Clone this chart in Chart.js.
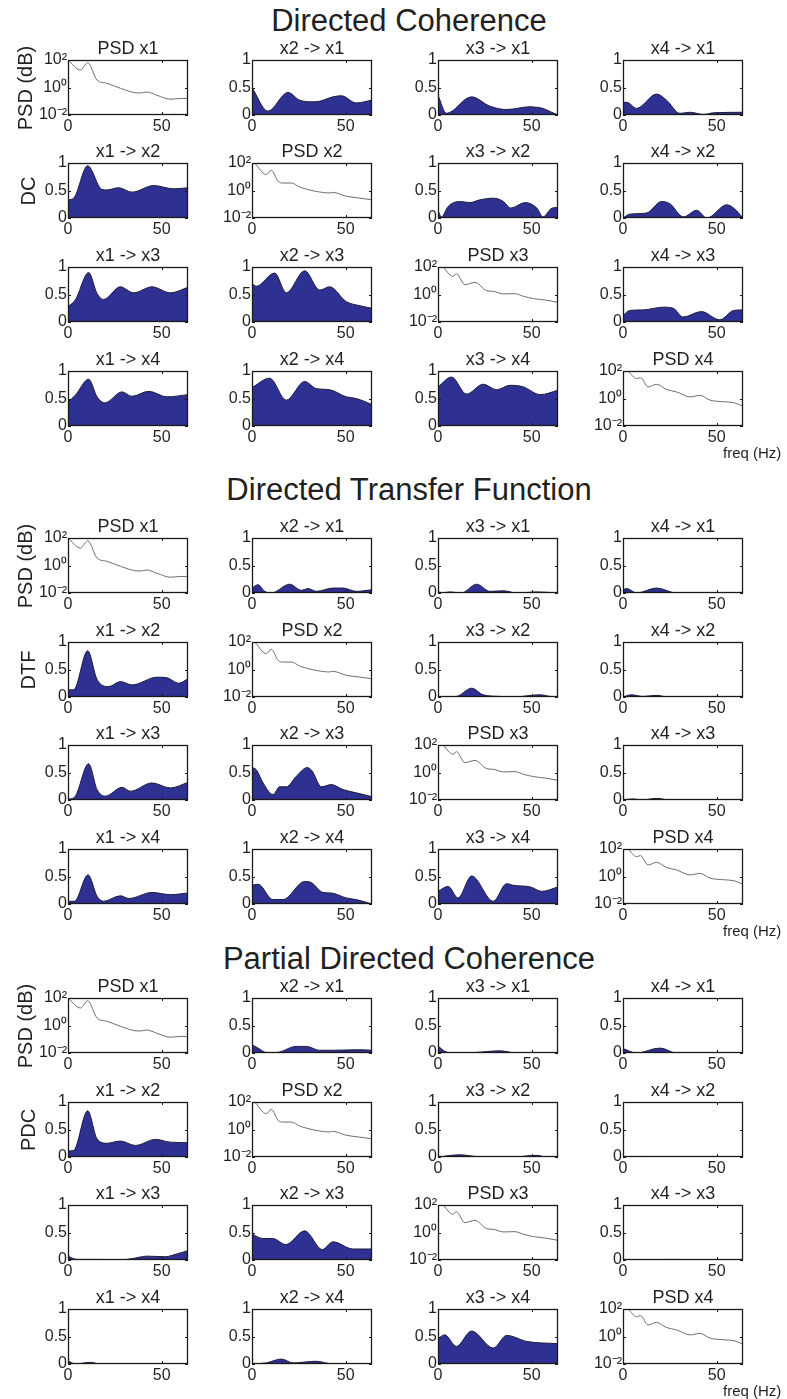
<!DOCTYPE html>
<html>
<head>
<meta charset="utf-8">
<script src="https://cdn.jsdelivr.net/npm/chart.js@4.4.0/dist/chart.umd.min.js"></script>
<style>
  body { margin: 0; background: #fff; }
  #fig { position: relative; width: 787px; height: 1399px; overflow: hidden;
         font-family: "Liberation Sans", Arial, sans-serif; color: #231f20; }
  #fig canvas { position: absolute; }
  .suptitle { position: absolute; left: 0; width: 818px; text-align: center; font-size: 31px; line-height: 1; }
  .ylab { position: absolute; font-size: 20px; white-space: nowrap; line-height: 1;
          transform: translate(-50%, -50%) rotate(-90deg); }
  .xlab { position: absolute; font-size: 15px; white-space: nowrap; line-height: 1; }
</style>
</head>
<body>
<div id="fig"></div>
<script>
// Spectra of each channel (same in every block), [freq, power]
const PSD_X1 = [[0,100],[6.6,18.6],[10.5,63],[15.5,3.5],[20.8,2.0],[28,0.87],[30.6,0.66],[35,0.43],[38.6,0.40],[42,0.47],[47.5,0.27],[54.6,0.14],[60,0.16],[64,0.16]];
const PSD_X2 = [[0,140],[1.4,100],[5.9,18.6],[7.6,14.1],[10.3,29.5],[13.9,4.7],[16.5,3.5],[21,3.5],[25.4,1.78],[29,1.26],[34,0.87],[41.4,0.66],[43,0.74],[50.3,0.38],[57.4,0.28],[64,0.21]];
const PSD_X3 = [[0,200],[2.7,100],[6.3,27.5],[8,20.9],[9.8,33],[14.3,5.2],[19.7,7.6],[26,1.9],[29.5,1.7],[34.9,1.1],[41,1.15],[45.6,0.74],[51,0.5],[58,0.38],[64,0.27]];
const PSD_X4 = [[0,200],[2.7,100],[7.2,28],[9.3,33],[13.4,6.9],[17.9,10.7],[23.2,4.5],[28.6,3.0],[35.8,1.3],[41,1.7],[46.4,0.76],[53.6,0.58],[59,0.5],[64,0.28]];

// Directed coherence, source -> target
const DC_21 = [[0,.5],[8.5,.07],[19.2,.41],[25.4,.27],[32.5,.24],[36,.25],[43.2,.33],[47.6,.35],[55.6,.22],[64,.27]];
const DC_31 = [[0,.36],[4.5,.03],[17.9,.33],[27.7,.16],[36.6,.10],[49,.15],[52.7,.14],[56,.12],[60,.06],[64,0]];
const DC_41 = [[0,.23],[2.1,.23],[7.2,.12],[17.9,.38],[23.2,.27],[30.4,.03],[35.8,.05],[42.9,.01],[48.3,.04],[64,.05]];
const DC_12 = [[0,.33],[3,.36],[10.5,.95],[18,.52],[20.8,.51],[27,.55],[34.1,.47],[45.7,.59],[56.4,.53],[64,.55]];
const DC_32 = [[0,.14],[1.8,.02],[5.4,.21],[11.6,.3],[17,.28],[22.3,.33],[29.5,.36],[34.9,.3],[38.8,.18],[46.5,.28],[52.7,.18],[56,.02],[60.8,.18],[64,.19]];
const DC_42 = [[0,0],[3.6,.07],[12.5,.09],[20.6,.3],[25,.26],[32.2,.02],[39.3,.14],[44.7,0],[55.4,.24],[59,.18],[64,0]];
const DC_13 = [[0,.28],[3.9,.40],[11,.9],[15.5,.52],[19,.41],[27.9,.64],[35,.53],[44.8,.64],[54.6,.53],[64,.63]];
const DC_23 = [[0,.7],[2.3,.65],[12.1,.89],[18.3,.53],[28.1,.93],[36.1,.58],[41.4,.64],[50.3,.37],[57,.3],[64,.25]];
const DC_43 = [[0,.12],[3.6,.21],[10.7,.22],[21.5,.27],[26.8,.25],[32,.09],[41.8,.19],[51.6,.04],[59,.21],[64,.22]];
const DC_14 = [[0,.44],[3.9,.56],[11,.85],[15.5,.53],[19.6,.42],[28.8,.62],[34.1,.54],[43,.63],[52.8,.53],[64,.57]];
const DC_24 = [[0,.7],[9.4,.87],[18.3,.47],[28.1,.81],[34.3,.68],[41.4,.66],[50.3,.53],[55.6,.5],[64,.39]];
const DC_34 = [[0,.71],[7.2,.89],[15.2,.58],[24.1,.76],[31.3,.66],[38.4,.74],[45.6,.71],[54.5,.57],[64,.65]];

// Directed transfer function
const DTF_21 = [[0,.09],[3.2,.15],[6.8,.03],[10.3,0],[20.1,.16],[26.3,.05],[29.9,.08],[34.3,.03],[43.2,.09],[48.5,.09],[55.6,.03],[64,.06]];
const DTF_31 = [[0,.03],[1.8,0],[6.3,.02],[12.5,0],[20.6,.16],[27.7,.03],[34.9,.04],[42,0],[52.7,.02],[64,0]];
const DTF_41 = [[0,.06],[2.1,.08],[7.2,0],[17.9,.09],[28.6,0],[64,.01]];
const DTF_12 = [[0,.13],[3,.13],[10.5,.84],[15.5,.32],[21.7,.19],[28,.28],[34.1,.22],[47.5,.36],[52.8,.35],[59,.25],[64,.33]];
const DTF_32 = [[0,0],[9.8,.01],[17.9,.16],[24.1,.04],[32.9,.01],[40,0],[54.5,.04],[59.9,.01],[64,0]];
const DTF_42 = [[0,0],[4.5,.04],[10.7,.01],[17.9,.03],[24,0],[48,.01],[64,0]];
const DTF_13 = [[0,.01],[3.9,.07],[11,.66],[15.5,.19],[19.9,.07],[28.8,.23],[33.2,.16],[44.8,.31],[54.6,.22],[64,.32]];
const DTF_23 = [[0,.59],[2.3,.55],[5.9,.31],[11.2,.10],[14.8,.24],[18.3,.24],[23.6,.43],[29.5,.59],[32,.53],[37,.24],[42.3,.28],[48.5,.19],[55.6,.13],[64,.06]];
const DTF_43 = [[0,0],[5.4,.02],[10,0],[17.9,.03],[25,0],[64,0]];
const DTF_14 = [[0,.05],[3.4,.05],[10.7,.53],[15.5,.14],[19,.05],[28,.15],[32.4,.1],[44.8,.21],[54.6,.17],[64,.2]];
const DTF_24 = [[0,.34],[3.2,.36],[11.2,.08],[16.5,.08],[28.1,.41],[31.6,.39],[37.9,.21],[42.3,.2],[50.3,.11],[55.6,.08],[64,0]];
const DTF_34 = [[0,.23],[5.4,.32],[10.7,.11],[17.9,.51],[29.5,.05],[36.6,.37],[40.2,.34],[49.2,.31],[55.4,.23],[64,.31]];

// Partial directed coherence
const PDC_21 = [[0,.15],[3.2,.09],[7.6,.01],[13,.01],[23.6,.12],[29,.12],[36,.05],[43.2,.05],[57.4,.06],[64,.05]];
const PDC_31 = [[0,.13],[3.6,.03],[8,0],[20,.01],[32.9,.04],[42,0],[64,0]];
const PDC_41 = [[0,.08],[7.2,0],[19.7,.09],[28.6,0],[64,0]];
const PDC_12 = [[0,.11],[3,.12],[10.5,.84],[15.5,.33],[20.8,.25],[28,.29],[35.9,.21],[46.6,.32],[54.6,.27],[64,.26]];
const PDC_32 = [[0,0],[11.6,.04],[20.4,.01],[40,0],[52.4,.03],[58,0],[64,0]];
const PDC_42 = [[0,0],[8.9,.01],[30,0],[48,.01],[64,0]];
const PDC_13 = [[0,.07],[4.8,.01],[15.5,.01],[27.9,0],[35,.03],[42.1,.07],[51.9,.06],[58,.11],[64,.17]];
const PDC_23 = [[0,.47],[5.9,.39],[11.2,.39],[18,.28],[28.1,.53],[37.5,.19],[43.2,.33],[53.9,.2],[64,.2]];
const PDC_43 = [[0,0],[26.8,.01],[64,0]];
const PDC_14 = [[0,.06],[3.9,0],[11.9,.03],[17.2,0],[64,0]];
const PDC_24 = [[0,0],[7.6,.02],[15.6,.09],[21.9,.02],[34.3,.05],[43.2,0],[64,0]];
const PDC_34 = [[0,.46],[3.6,.53],[9.8,.32],[17.9,.6],[29.5,.29],[36.6,.52],[47.4,.41],[64,.37]];

const X_TICKS = [0, 50];
const COH_TICKS = [0, 0.5, 1];
const PSD_TICKS = [0.01, 1, 100];
const PSD_LABELS = { 0.01: '10\u207B\u00B2', 1: '10\u2070', 100: '10\u00B2' };

// rows = target channel, columns = source channel, spectra on the diagonal
const BLOCKS = [
  { title: 'Directed Coherence', measure: 'DC', titleY: 20, rows: [60, 163, 267, 371],
    grid: [[PSD_X1, DC_21, DC_31, DC_41], [DC_12, PSD_X2, DC_32, DC_42], [DC_13, DC_23, PSD_X3, DC_43], [DC_14, DC_24, DC_34, PSD_X4]] },
  { title: 'Directed Transfer Function', measure: 'DTF', titleY: 489, rows: [538, 642, 745, 849],
    grid: [[PSD_X1, DTF_21, DTF_31, DTF_41], [DTF_12, PSD_X2, DTF_32, DTF_42], [DTF_13, DTF_23, PSD_X3, DTF_43], [DTF_14, DTF_24, DTF_34, PSD_X4]] },
  { title: 'Partial Directed Coherence', measure: 'PDC', titleY: 958, rows: [998, 1102, 1205, 1309],
    grid: [[PSD_X1, PDC_21, PDC_31, PDC_41], [PDC_12, PSD_X2, PDC_32, PDC_42], [PDC_13, PDC_23, PSD_X3, PDC_43], [PDC_14, PDC_24, PDC_34, PSD_X4]] }
];

const COLS = [68, 252, 438, 623];
const BOX_W = 120, BOX_H = 55;
const PAD_L = 52, PAD_R = 8, PAD_T = 24, PAD_B = 24;
const FONT = '"Liberation Sans", Arial, sans-serif';
const INK = '#231f20';
const TITLE_SIZE = 18;

// box outline and inward MATLAB-style ticks on all four sides
const framePlugin = {
  id: 'frame',
  afterDraw(chart) {
    const { ctx, chartArea: a, scales } = chart;
    ctx.save();
    ctx.strokeStyle = '#1a1a1a';
    ctx.lineWidth = 1;
    ctx.beginPath();
    scales.x.ticks.forEach(t => {
      const px = Math.round(scales.x.getPixelForValue(t.value)) + 0.5;
      ctx.moveTo(px, a.bottom); ctx.lineTo(px, a.bottom - 3);
      ctx.moveTo(px, a.top); ctx.lineTo(px, a.top + 3);
    });
    scales.y.ticks.forEach(t => {
      const py = Math.round(scales.y.getPixelForValue(t.value)) + 0.5;
      ctx.moveTo(a.left, py); ctx.lineTo(a.left + 3, py);
      ctx.moveTo(a.right, py); ctx.lineTo(a.right - 3, py);
    });
    ctx.stroke();
    ctx.lineWidth = 1.3;
    ctx.strokeRect(a.left + 0.5, a.top + 0.5, a.right - a.left - 1, a.bottom - a.top - 1);
    ctx.restore();
  }
};

function makePanel(fig, left, top, series, title, isPsd) {
  const canvas = document.createElement('canvas');
  canvas.width = BOX_W + PAD_L + PAD_R;
  canvas.height = BOX_H + PAD_T + PAD_B;
  canvas.style.left = (left - PAD_L) + 'px';
  canvas.style.top = (top - PAD_T) + 'px';
  fig.appendChild(canvas);

  const tickFont = { family: FONT, size: 16 };
  const dataset = isPsd ? {
    data: series.map(p => ({ x: p[0], y: p[1] })),
    borderColor: '#6e6e6e', borderWidth: 1, fill: false
  } : {
    data: series.map(p => ({ x: p[0], y: p[1] })),
    borderColor: '#1c1c3c', borderWidth: 1, fill: 'origin', backgroundColor: '#2e3192'
  };

  new Chart(canvas, {
    type: 'line',
    data: { datasets: [Object.assign(dataset, { pointRadius: 0, cubicInterpolationMode: 'monotone' })] },
    options: {
      responsive: false, animation: false, devicePixelRatio: 1,
      layout: { padding: { left: 0, right: PAD_R, top: 0, bottom: 0 } },
      plugins: {
        legend: { display: false },
        tooltip: { enabled: false },
        title: {
          display: true, text: title, fullSize: false, color: INK,
          font: { family: FONT, size: TITLE_SIZE, weight: 'normal', lineHeight: 1.1 },
          padding: { top: 3, bottom: PAD_T - 3 - TITLE_SIZE * 1.1 }
        }
      },
      scales: {
        x: {
          type: 'linear', min: 0, max: 64,
          grid: { display: false, drawTicks: false }, border: { display: false },
          afterBuildTicks: s => { s.ticks = X_TICKS.map(v => ({ value: v })); },
          afterFit: s => { s.height = PAD_B; },
          ticks: { font: tickFont, color: INK, padding: 2, autoSkip: false, maxRotation: 0 }
        },
        y: {
          type: isPsd ? 'logarithmic' : 'linear',
          min: isPsd ? 0.01 : 0, max: isPsd ? 100 : 1,
          grid: { display: false, drawTicks: false }, border: { display: false },
          afterBuildTicks: s => { s.ticks = (isPsd ? PSD_TICKS : COH_TICKS).map(v => ({ value: v })); },
          afterFit: s => { s.width = PAD_L; },
          ticks: {
            font: tickFont, color: INK, padding: 1, autoSkip: false,
            callback: v => isPsd ? PSD_LABELS[v] : String(v)
          }
        }
      }
    },
    plugins: [framePlugin]
  });
}

function addText(fig, cls, text, left, top) {
  const el = document.createElement('div');
  el.className = cls;
  el.textContent = text;
  if (left !== null) el.style.left = left + 'px';
  el.style.top = top + 'px';
  fig.appendChild(el);
  return el;
}

const fig = document.getElementById('fig');
BLOCKS.forEach(block => {
  addText(fig, 'suptitle', block.title, null, block.titleY - 15);
  block.rows.forEach((top, r) => {
    COLS.forEach((left, c) => {
      const isPsd = r === c;
      const title = isPsd ? 'PSD x' + (r + 1) : 'x' + (c + 1) + ' -> x' + (r + 1);
      makePanel(fig, left, top, block.grid[r][c], title, isPsd);
    });
  });
  addText(fig, 'ylab', 'PSD (dB)', 25, block.rows[0] + BOX_H / 2);
  addText(fig, 'ylab', block.measure, 28, block.rows[1] + BOX_H / 2);
  addText(fig, 'xlab', 'freq (Hz)', 723, block.rows[3] + BOX_H + 19);
});
</script>
</body>
</html>
